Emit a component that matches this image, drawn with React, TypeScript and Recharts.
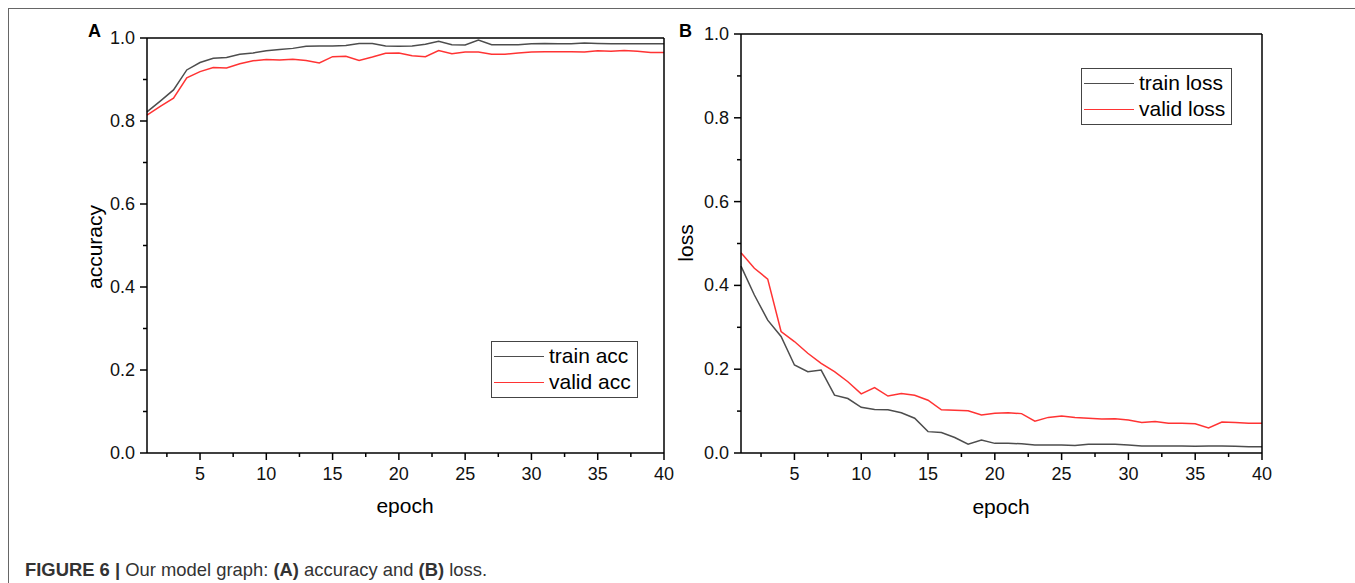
import React from 'react';
import { LineChart, Line, XAxis, YAxis, Legend } from 'recharts';

// epochs on the x axis
const epochs = [
  1, 2, 3, 4, 5, 6, 7, 8, 9, 10, 11, 12, 13, 14, 15, 16, 17, 18, 19, 20,
  21, 22, 23, 24, 25, 26, 27, 28, 29, 30, 31, 32, 33, 34, 35, 36, 37, 38, 39, 40,
];

// (A) accuracy
const trainAcc = [
  0.822, 0.848, 0.875, 0.923, 0.941, 0.951, 0.953, 0.961, 0.964, 0.969,
  0.972, 0.975, 0.980, 0.981, 0.981, 0.982, 0.987, 0.987, 0.981, 0.980,
  0.981, 0.985, 0.992, 0.984, 0.983, 0.995, 0.984, 0.984, 0.984, 0.986,
  0.987, 0.986, 0.986, 0.988, 0.987, 0.986, 0.986, 0.986, 0.986, 0.986,
];
const validAcc = [
  0.814, 0.835, 0.855, 0.904, 0.919, 0.929, 0.928, 0.938, 0.945, 0.948,
  0.947, 0.949, 0.946, 0.940, 0.955, 0.956, 0.946, 0.954, 0.963, 0.964,
  0.957, 0.955, 0.970, 0.962, 0.966, 0.966, 0.961, 0.961, 0.964, 0.966,
  0.967, 0.967, 0.967, 0.966, 0.969, 0.968, 0.970, 0.968, 0.965, 0.965,
];

// (B) loss
const trainLoss = [
  0.446, 0.377, 0.317, 0.278, 0.210, 0.194, 0.198, 0.138, 0.130, 0.109,
  0.104, 0.103, 0.096, 0.083, 0.051, 0.049, 0.037, 0.021, 0.031, 0.023,
  0.023, 0.022, 0.019, 0.019, 0.019, 0.018, 0.021, 0.021, 0.021, 0.019,
  0.017, 0.017, 0.017, 0.017, 0.016, 0.017, 0.017, 0.016, 0.015, 0.015,
];
const validLoss = [
  0.478, 0.441, 0.415, 0.290, 0.266, 0.238, 0.214, 0.194, 0.170, 0.141,
  0.156, 0.136, 0.142, 0.138, 0.126, 0.103, 0.102, 0.101, 0.091, 0.095,
  0.096, 0.094, 0.076, 0.085, 0.088, 0.085, 0.083, 0.081, 0.082, 0.079,
  0.073, 0.075, 0.071, 0.071, 0.070, 0.060, 0.074, 0.073, 0.071, 0.071,
];

// tick positions (majors get labels, the rest are minor ticks)
const xTicks = [2.5, 5, 7.5, 10, 12.5, 15, 17.5, 20, 22.5, 25, 27.5, 30, 32.5, 35, 37.5, 40];
const xMajor = [5, 10, 15, 20, 25, 30, 35, 40];
const yTicks = [0, 0.1, 0.2, 0.3, 0.4, 0.5, 0.6, 0.7, 0.8, 0.9, 1.0];
const yMajor = ['0.0', '0.2', '0.4', '0.6', '0.8', '1.0'];

const FONT = '"Liberation Sans", Arial, sans-serif';
const GRAY = '#4d4d4d';
const RED = '#ff3333';

const accData = epochs.map((e, i) => ({ epoch: e, train: trainAcc[i], valid: validAcc[i] }));
const lossData = epochs.map((e, i) => ({ epoch: e, train: trainLoss[i], valid: validLoss[i] }));

const XTick = (props: any) => {
  const { x, y, payload } = props;
  const major = xMajor.includes(payload.value);
  return (
    <g>
      <line x1={x} y1={y} x2={x} y2={y + (major ? 7 : 4)} stroke="#000" strokeWidth={1.5} />
      {major && (
        <text x={x} y={y + 27} textAnchor="middle" fontSize={18} fontFamily={FONT} fill="#111">
          {payload.value}
        </text>
      )}
    </g>
  );
};

const YTick = (props: any) => {
  const { x, y, payload } = props;
  const label = Number(payload.value).toFixed(1);
  const major = yMajor.includes(label);
  return (
    <g>
      <line x1={x} y1={y} x2={x - (major ? 7 : 4)} y2={y} stroke="#000" strokeWidth={1.5} />
      {major && (
        <text x={x - 12} y={y + 6} textAnchor="end" fontSize={18} fontFamily={FONT} fill="#111">
          {label}
        </text>
      )}
    </g>
  );
};

const LegendBox = (props: any) => {
  const { payload } = props;
  return (
    <div style={{ border: '1.5px solid #444', background: '#fff', padding: '1px 6px 2px 2px', fontFamily: FONT, fontSize: 21, lineHeight: '26px' }}>
      {(payload || []).map((p: any) => (
        <div key={p.value} style={{ display: 'flex', alignItems: 'center', whiteSpace: 'nowrap' }}>
          <span style={{ display: 'inline-block', width: 50, height: 0, borderTop: `1.5px solid ${p.color}`, marginRight: 5 }} />
          <span style={{ color: '#000' }}>{p.value}</span>
        </div>
      ))}
    </div>
  );
};

function Panel({ data, width, margin, legendPos, trainName, validName }: any) {
  return (
    <LineChart width={width} height={540} data={data} margin={margin}>
      <XAxis dataKey="epoch" type="number" domain={[1, 40]} ticks={xTicks} interval={0}
        height={30} tickSize={0} tickMargin={0} tick={(p: any) => <XTick {...p} />}
        tickLine={false} axisLine={{ stroke: '#000', strokeWidth: 1.5 }} />
      <XAxis xAxisId="top" orientation="top" dataKey="epoch" type="number" domain={[1, 40]}
        height={1} tick={false} tickLine={false} axisLine={{ stroke: '#000', strokeWidth: 1.5 }} />
      <YAxis type="number" domain={[0, 1]} ticks={yTicks} interval={0} width={40}
        tickSize={0} tickMargin={0} tick={(p: any) => <YTick {...p} />}
        tickLine={false} axisLine={{ stroke: '#000', strokeWidth: 1.5 }} />
      <YAxis yAxisId="right" orientation="right" type="number" domain={[0, 1]} width={1}
        tick={false} tickLine={false} axisLine={{ stroke: '#000', strokeWidth: 1.5 }} />
      <Legend layout="vertical" align="center" verticalAlign="middle" content={<LegendBox />}
        wrapperStyle={{ position: 'absolute', left: legendPos.left, top: legendPos.top, width: 'auto' }} />
      <Line type="linear" dataKey="train" name={trainName} stroke={GRAY} strokeWidth={1.5} dot={false} isAnimationActive={false} />
      <Line type="linear" dataKey="valid" name={validName} stroke={RED} strokeWidth={1.5} dot={false} isAnimationActive={false} />
    </LineChart>
  );
}

const abs = (left: number, top: number, extra: any = {}) => ({ position: 'absolute' as const, left, top, ...extra });

export default function App() {
  return (
    <div style={{ position: 'absolute', left: 0, top: 0, width: 1355, height: 583, overflow: 'hidden', background: '#fff', fontFamily: FONT }}>
      <div style={abs(8, 8, { width: 1400, height: 600, borderLeft: '1.5px solid #666', borderTop: '1.5px solid #666' })} />

      <div style={abs(0, 0)}>
        <Panel data={accData} width={700} margin={{ top: 37, left: 107, right: 35, bottom: 57 }}
          legendPos={{ left: 491, top: 341 }} trainName="train acc" validName="valid acc" />
      </div>
      <div style={abs(700, 0)}>
        <Panel data={lossData} width={655} margin={{ top: 33, left: 1, right: 92, bottom: 57 }}
          legendPos={{ left: 381, top: 68 }} trainName="train loss" validName="valid loss" />
      </div>

      <div style={abs(88, 21, { fontSize: 18, fontWeight: 'bold' })}>A</div>
      <div style={abs(679, 21, { fontSize: 18, fontWeight: 'bold' })}>B</div>

      <div style={abs(95, 247, { fontSize: 21, transform: 'translate(-50%, -50%) rotate(-90deg)', whiteSpace: 'nowrap' })}>accuracy</div>
      <div style={abs(686, 243, { fontSize: 21, transform: 'translate(-50%, -50%) rotate(-90deg)', whiteSpace: 'nowrap' })}>loss</div>
      <div style={abs(405, 506, { fontSize: 21, transform: 'translate(-50%, -50%)', whiteSpace: 'nowrap' })}>epoch</div>
      <div style={abs(1001, 507, { fontSize: 21, transform: 'translate(-50%, -50%)', whiteSpace: 'nowrap' })}>epoch</div>

      <div style={abs(25, 559, { fontSize: 18.4, color: '#333', whiteSpace: 'nowrap' })}>
        <b>FIGURE 6 |</b> Our model graph: <b>(A)</b> accuracy and <b>(B)</b> loss.
      </div>
    </div>
  );
}
